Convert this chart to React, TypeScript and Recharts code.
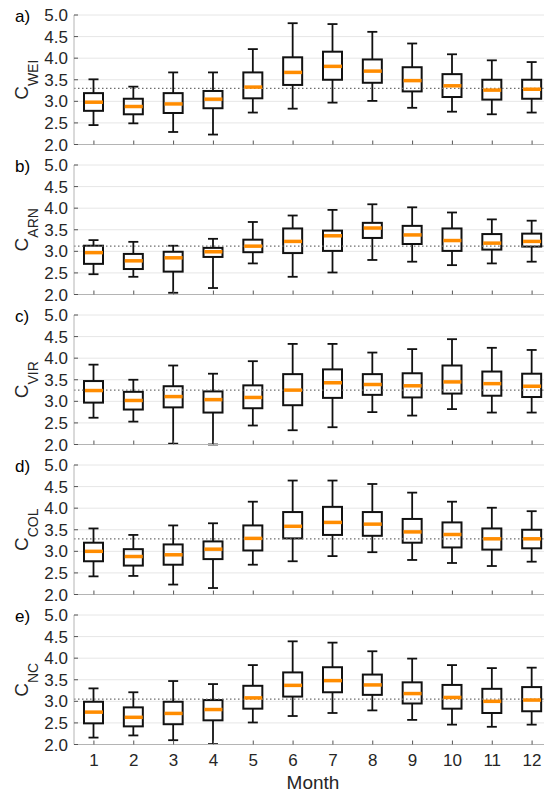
import React from 'react';
import { ComposedChart, Bar, Line, XAxis, YAxis, CartesianGrid, ReferenceLine } from 'recharts';

const months = ['1', '2', '3', '4', '5', '6', '7', '8', '9', '10', '11', '12'];
const yTicks = [2, 2.5, 3, 3.5, 4, 4.5, 5];

// a) C_WEI
const weiMin = [2.45, 2.49, 2.29, 2.23, 2.74, 2.83, 2.97, 3.01, 2.85, 2.76, 2.70, 2.74];
const weiQ1 = [2.78, 2.70, 2.73, 2.84, 3.07, 3.38, 3.50, 3.43, 3.23, 3.10, 3.04, 3.06];
const weiMed = [2.98, 2.88, 2.94, 3.05, 3.33, 3.67, 3.81, 3.70, 3.48, 3.36, 3.26, 3.28];
const weiQ3 = [3.19, 3.06, 3.19, 3.24, 3.67, 4.02, 4.15, 3.97, 3.79, 3.63, 3.50, 3.50];
const weiMax = [3.51, 3.34, 3.67, 3.67, 4.21, 4.81, 4.79, 4.61, 4.34, 4.09, 3.95, 3.91];
const weiRef = 3.30;

// b) C_ARN
const arnMin = [2.47, 2.41, 2.04, 2.15, 2.72, 2.41, 2.51, 2.80, 2.76, 2.68, 2.72, 2.76];
const arnQ1 = [2.71, 2.59, 2.53, 2.87, 2.98, 2.96, 3.01, 3.31, 3.17, 3.01, 3.04, 3.11];
const arnMed = [2.97, 2.78, 2.85, 2.99, 3.12, 3.23, 3.36, 3.54, 3.38, 3.25, 3.19, 3.23];
const arnQ3 = [3.13, 2.94, 2.99, 3.08, 3.27, 3.53, 3.48, 3.66, 3.59, 3.53, 3.40, 3.41];
const arnMax = [3.26, 3.22, 3.13, 3.29, 3.68, 3.83, 3.96, 4.09, 4.02, 3.90, 3.74, 3.71];
const arnRef = 3.12;

// c) C_VIR
const virMin = [2.62, 2.53, 2.02, 2.00, 2.44, 2.33, 2.40, 2.75, 2.67, 2.82, 2.74, 2.74];
const virQ1 = [2.97, 2.81, 2.86, 2.74, 2.84, 2.91, 3.08, 3.15, 3.09, 3.18, 3.13, 3.10];
const virMed = [3.25, 3.02, 3.11, 3.04, 3.09, 3.26, 3.43, 3.39, 3.36, 3.45, 3.41, 3.35];
const virQ3 = [3.47, 3.22, 3.35, 3.23, 3.37, 3.63, 3.74, 3.63, 3.65, 3.83, 3.69, 3.64];
const virMax = [3.85, 3.50, 3.83, 3.64, 3.93, 4.33, 4.33, 4.13, 4.21, 4.44, 4.24, 4.19];
const virRef = 3.26;

// d) C_COL
const colMin = [2.42, 2.43, 2.23, 2.15, 2.69, 2.77, 2.89, 2.98, 2.80, 2.73, 2.66, 2.76];
const colQ1 = [2.77, 2.67, 2.69, 2.82, 3.02, 3.30, 3.38, 3.36, 3.20, 3.09, 3.04, 3.07];
const colMed = [3.00, 2.88, 2.92, 3.05, 3.30, 3.58, 3.67, 3.63, 3.45, 3.39, 3.29, 3.29];
const colQ3 = [3.20, 3.05, 3.16, 3.23, 3.60, 3.91, 4.03, 3.91, 3.75, 3.67, 3.53, 3.50];
const colMax = [3.53, 3.38, 3.60, 3.65, 4.15, 4.64, 4.64, 4.56, 4.36, 4.15, 4.01, 3.93];
const colRef = 3.29;

// e) C_NC
const ncMin = [2.16, 2.21, 2.10, 2.01, 2.51, 2.66, 2.73, 2.79, 2.57, 2.46, 2.41, 2.46];
const ncQ1 = [2.49, 2.42, 2.47, 2.56, 2.83, 3.11, 3.21, 3.15, 2.95, 2.83, 2.73, 2.77];
const ncMed = [2.75, 2.63, 2.72, 2.81, 3.08, 3.37, 3.48, 3.38, 3.18, 3.09, 3.00, 3.03];
const ncQ3 = [2.99, 2.86, 2.99, 3.03, 3.36, 3.67, 3.79, 3.62, 3.44, 3.38, 3.29, 3.33];
const ncMax = [3.30, 3.21, 3.47, 3.40, 3.84, 4.39, 4.36, 4.16, 3.99, 3.84, 3.77, 3.78];
const ncRef = 3.05;

const panels = [
  { tag: 'a)', sub: 'WEI', min: weiMin, q1: weiQ1, med: weiMed, q3: weiQ3, max: weiMax, ref: weiRef },
  { tag: 'b)', sub: 'ARN', min: arnMin, q1: arnQ1, med: arnMed, q3: arnQ3, max: arnMax, ref: arnRef },
  { tag: 'c)', sub: 'VIR', min: virMin, q1: virQ1, med: virMed, q3: virQ3, max: virMax, ref: virRef },
  { tag: 'd)', sub: 'COL', min: colMin, q1: colQ1, med: colMed, q3: colQ3, max: colMax, ref: colRef },
  { tag: 'e)', sub: 'NC', min: ncMin, q1: ncQ1, med: ncMed, q3: ncQ3, max: ncMax, ref: ncRef },
];

const FONT = '"Liberation Sans", Arial, Helvetica, sans-serif';
const ORANGE = '#ff8c00';
const AXIS = '#b4b4b4';
const TICK = '#555';
const TEXT = '#262626';
const PLOT_H = 129.5;
const TOP = 10;

const span = (p: any) => {
  const a = p.y;
  const b = p.y + p.height;
  return [Math.min(a, b), Math.max(a, b)];
};

// whisker from q3 up to max, cap at the top
const UpperWhisker = (props: any) => {
  const [top, bottom] = span(props);
  const cx = props.x + props.width / 2;
  return (
    <g stroke="#111" strokeWidth={1.8}>
      <line x1={cx} x2={cx} y1={top} y2={bottom} />
      <line x1={cx - 5} x2={cx + 5} y1={top} y2={top} />
    </g>
  );
};

// whisker from q1 down to min, cap at the bottom
const LowerWhisker = (props: any) => {
  const [top, bottom] = span(props);
  const cx = props.x + props.width / 2;
  return (
    <g stroke="#111" strokeWidth={1.8}>
      <line x1={cx} x2={cx} y1={top} y2={bottom} />
      <line x1={cx - 5} x2={cx + 5} y1={bottom} y2={bottom} />
    </g>
  );
};

const BoxShape = (props: any) => {
  const [top, bottom] = span(props);
  return (
    <rect x={props.x} y={top} width={props.width} height={bottom - top} fill="none" stroke="#111" strokeWidth={2} />
  );
};

const MedianMark = (props: any) => {
  const { cx, cy } = props;
  if (cx == null || cy == null) return <g />;
  return <line x1={cx - 9} x2={cx + 9} y1={cy} y2={cy} stroke={ORANGE} strokeWidth={3.5} />;
};

const BottomTick = (props: any) => {
  const { x, y, payload, showLabel } = props;
  return (
    <g>
      <line x1={x} x2={x} y1={y} y2={y - 4} stroke={TICK} />
      {showLabel && (
        <text x={x} y={y + 21.5} textAnchor="middle" fontSize={17} fill={TEXT} fontFamily={FONT}>
          {payload.value}
        </text>
      )}
    </g>
  );
};

const TopTick = (props: any) => {
  const { x, y } = props;
  return <line x1={x} x2={x} y1={y} y2={y + 4} stroke={TICK} />;
};

const LeftTick = (props: any) => {
  const { x, y, payload } = props;
  return (
    <g>
      <line x1={x} x2={x + 4} y1={y} y2={y} stroke={TICK} />
      <text x={x - 6} y={y} dy="0.36em" textAnchor="end" fontSize={17} fill={TEXT} fontFamily={FONT}>
        {Number(payload.value).toFixed(1)}
      </text>
    </g>
  );
};

function Panel({ p, idx, last }: { p: any; idx: number; last: boolean }) {
  const rows = months.map((m, i) => ({
    month: m,
    lo: [p.min[i], p.q1[i]],
    box: [p.q1[i], p.q3[i]],
    hi: [p.q3[i], p.max[i]],
    med: p.med[i],
  }));
  const bottomH = last ? 50 : 12;
  const h = TOP + PLOT_H + bottomH;
  const midY = TOP + PLOT_H / 2;

  return (
    <div style={{ position: 'absolute', left: 0, top: 5 + 150 * idx, width: 560, height: h }}>
      <ComposedChart width={560} height={h} data={rows} margin={{ top: TOP, right: 8, bottom: 0, left: 0 }}>
        <CartesianGrid xAxisId="bottom" vertical={false} stroke="#e6e6e6" />
        <XAxis
          xAxisId="bottom"
          dataKey="month"
          height={bottomH}
          interval={0}
          tickSize={0}
          tickMargin={0}
          tickLine={false}
          axisLine={{ stroke: AXIS }}
          tick={(t: any) => <BottomTick {...t} showLabel={last} />}
        />
        <XAxis
          xAxisId="top"
          dataKey="month"
          orientation="top"
          height={0}
          interval={0}
          tickSize={0}
          tickMargin={0}
          tickLine={false}
          axisLine={{ stroke: AXIS }}
          tick={(t: any) => <TopTick {...t} />}
        />
        <XAxis xAxisId="lo" dataKey="month" hide />
        <YAxis
          domain={[2, 5]}
          ticks={yTicks}
          width={74}
          interval={0}
          tickSize={0}
          tickMargin={0}
          tickLine={false}
          axisLine={{ stroke: AXIS }}
          tick={(t: any) => <LeftTick {...t} />}
        />
        <Bar xAxisId="lo" dataKey="lo" barSize={19} shape={<LowerWhisker />} isAnimationActive={false} />
        <Bar xAxisId="top" dataKey="hi" barSize={19} shape={<UpperWhisker />} isAnimationActive={false} />
        <Bar xAxisId="bottom" dataKey="box" barSize={19} shape={<BoxShape />} isAnimationActive={false} />
        <ReferenceLine xAxisId="bottom" y={p.ref} stroke="#6e6e6e" strokeWidth={1.3} strokeDasharray="1.5 2.5" />
        <Line
          xAxisId="bottom"
          dataKey="med"
          stroke="none"
          dot={<MedianMark />}
          activeDot={false}
          isAnimationActive={false}
        />
      </ComposedChart>
      <svg width={560} height={h} style={{ position: 'absolute', left: 0, top: 0, pointerEvents: 'none' }}>
        <text x={15} y={TOP + 7} fontSize={17} fill="#000" fontFamily={FONT}>
          {p.tag}
        </text>
        <text transform={`rotate(-90, 28, ${midY})`} x={28} y={midY} textAnchor="middle" fill={TEXT} fontFamily={FONT}>
          <tspan fontSize={19}>C</tspan>
          <tspan fontSize={14} dy={10}>{p.sub}</tspan>
        </text>
        {last && (
          <text x={313} y={TOP + PLOT_H + 44.5} textAnchor="middle" fontSize={19} fill={TEXT} fontFamily={FONT}>
            Month
          </text>
        )}
      </svg>
    </div>
  );
}

export default function App() {
  return (
    <div
      style={{
        position: 'absolute',
        left: 0,
        top: 0,
        width: 544,
        height: 796,
        overflow: 'hidden',
        background: '#fff',
        fontFamily: FONT,
      }}
    >
      {panels.map((p, i) => (
        <Panel key={p.tag} p={p} idx={i} last={i === panels.length - 1} />
      ))}
    </div>
  );
}
